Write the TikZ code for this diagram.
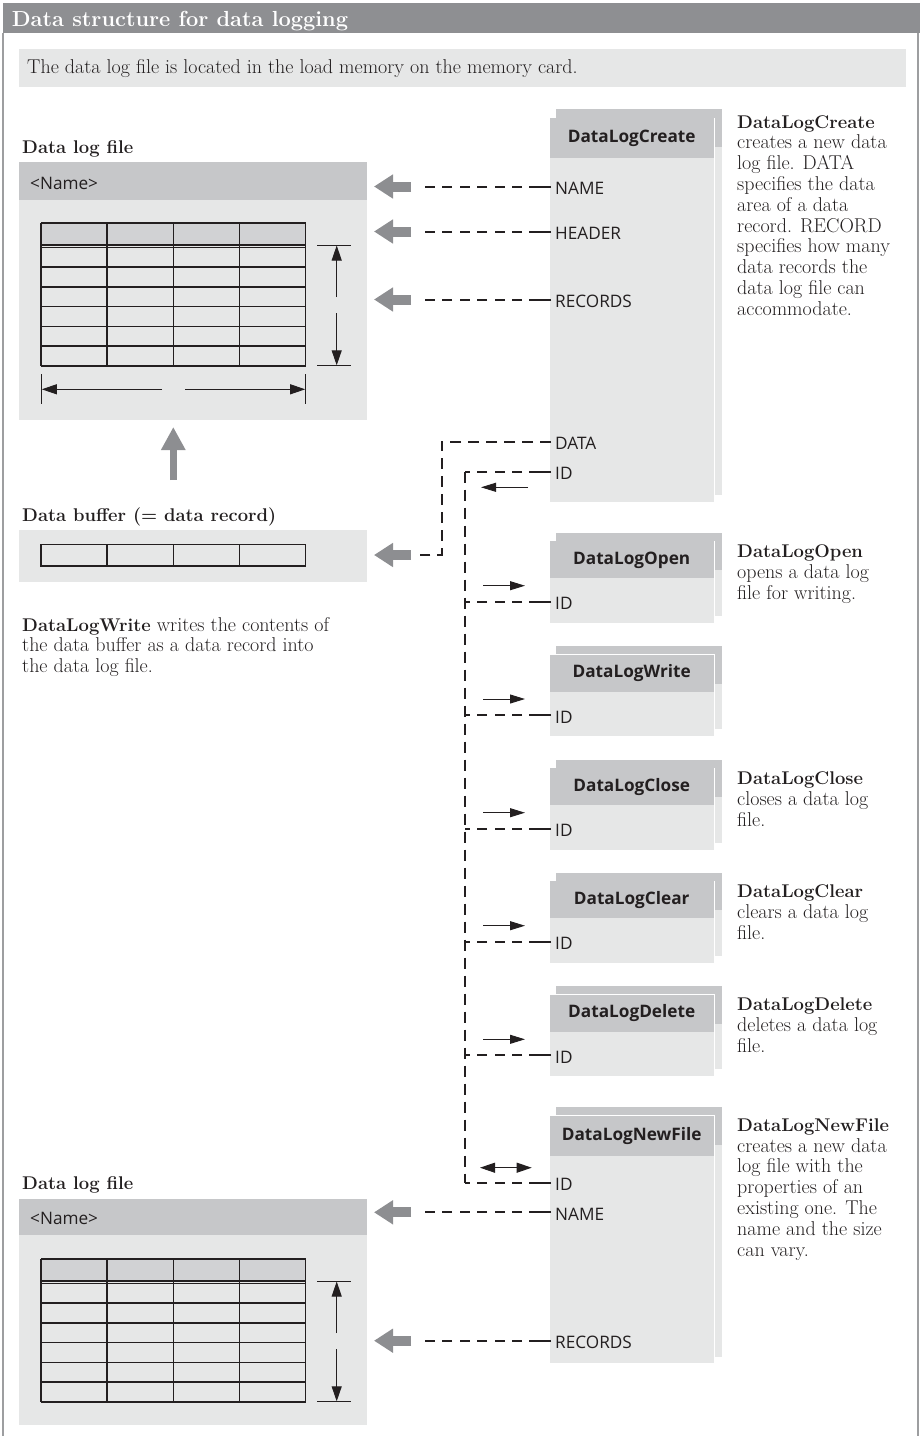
\documentclass[tikz,border=0pt]{standalone}
\usepackage{fontspec}
\newfontfamily\boxfont{Open Sans}
\usepackage{tikz}
\usetikzlibrary{arrows.meta}
\definecolor{barGray}{HTML}{8E8F92}
\definecolor{paneGray}{HTML}{E6E7E7}
\definecolor{headGray}{HTML}{C6C7C9}
\definecolor{cellGray}{HTML}{D1D2D4}
\definecolor{arrGray}{HTML}{8D8E91}
\definecolor{ink}{HTML}{231F20}
\definecolor{frameGray}{HTML}{9D9EA0}
% bold block name inside the running text
\newcommand\fname[1]{{\fontsize{18.4}{20.8}\selectfont\bfseries #1}}

\begin{document}
\begin{tikzpicture}[x=1pt, y=-1pt,
    txt/.style={inner sep=0pt, anchor=base west, text=ink,
      font=\fontsize{20}{20.8}\selectfont},
    para/.style={txt, anchor=north west, align=left},
    hd/.style={txt, font=\bfseries\fontsize{18.4}{20.8}\selectfont},
    port/.style={inner xsep=4pt, inner ysep=0pt, anchor=west, text=ink,
      text height=16pt, text depth=0pt, font=\boxfont\fontsize{17.2}{20}\selectfont},
    fhead/.style={anchor=north west, fill=headGray, minimum width=164pt,
      minimum height=37pt, inner sep=0pt, text=ink,
      font=\boxfont\bfseries\fontsize{17.2}{20}\selectfont},
    pane/.style={anchor=north west, fill=paneGray, inner sep=0pt},
    namebar/.style={anchor=north west, fill=headGray, inner sep=0pt,
      minimum width=348pt},
    tblLine/.style={line width=1.4pt, draw=ink},
    link/.style={line width=2pt, draw=ink, dash pattern=on 22pt off 7pt on 10pt off 7.5pt
      on 10pt off 7.5pt on 10pt off 7.5pt on 10pt off 7.5pt on 10pt off 7.5pt on 10pt off 7.5pt
      on 10pt off 7.5pt},
    spine/.style={line width=2pt, draw=ink, dash pattern=on 11pt off 7pt},
    blockArr/.style={draw=arrGray, line width=10pt, -{Triangle[length=19pt, width=23pt]}},
    thinArr/.style={line width=1pt, draw=ink, -{Triangle[length=15pt, width=9pt]}},
    dblArr/.style={line width=1pt, draw=ink,
      {Triangle[length=15pt, width=10pt]}-{Triangle[length=15pt, width=10pt]}},
    dimArr/.style={line width=1pt, draw=ink, -{Triangle[length=15pt, width=10pt]}}]
  \useasboundingbox (0,0) rectangle (920,1436);
  % frame and title
  \fill[barGray] (3,3) rectangle (920,33);
  \draw[frameGray, line width=1.2pt] (3,33) -- (3,1436) (918,33) -- (918,1436);
  \node[hd, text=white, font=\bfseries\fontsize{21.8}{24}\selectfont] (title) at (11.7,26.7)
    {Data structure for data logging};
  \node[pane, minimum width=887pt, minimum height=38pt] (intro) at (19,49) {};
  \node[txt] (introTxt) at (27,73.3)
    {The data log file is located in the load memory on the memory card.};

  % data log file (top)
  \node[hd] (logA) at (22,153.3) {Data log file};
  \node[pane, minimum width=348pt, minimum height=258pt] (fileA) at (19,162) {};
  \node[namebar, minimum height=38pt] (nameA) at (19,162) {};
  \node[port] at ([xshift=7pt]nameA.west) {<Name>};

  % data log file (bottom)
  \node[hd] (logB) at (22,1189.3) {Data log file};
  \node[pane, minimum width=348pt, minimum height=226.7pt] (fileB) at (19,1198.3) {};
  \node[namebar, minimum height=36.7pt] (nameB) at (19,1198.3) {};
  \node[port] at ([xshift=7pt]nameB.west) {<Name>};

  % tables of both files
  \foreach \ty in {223,1259}{
    \fill[cellGray] (41,\ty) rectangle (305.7,\ty+22);
    \foreach \r in {0,...,6}
      \draw[tblLine] (41,\ty+24.3+\r*19.75) -- (305.7,\ty+24.3+\r*19.75);
    \draw[tblLine] (41,\ty) -- (305.7,\ty) (41,\ty+22) -- (305.7,\ty+22);
    \foreach \cx in {41,107.1,173.3,239.5,305.7}
      \draw[tblLine] (\cx,\ty) -- (\cx,\ty+142.8);
    \draw[line width=1pt, draw=ink] (317,\ty+22) -- (351,\ty+22) (317,\ty+142.8) -- (351,\ty+142.8);
    \draw[dimArr] (336.7,\ty+74) -- (336.7,\ty+22.5);
    \draw[dimArr] (336.7,\ty+90) -- (336.7,\ty+142.3);
  }
  \draw[line width=1pt, draw=ink] (41.3,374) -- (41.3,404) (305.7,374) -- (305.7,404);
  \draw[dimArr] (162,389.3) -- (41.8,389.3);
  \draw[dimArr] (185,389.3) -- (305.2,389.3);

  % data buffer
  \draw[arrGray, line width=7pt, -{Triangle[length=23pt, width=23pt]}] (173.3,480) -- (173.3,427);
  \node[hd] (bufLbl) at (22,521.7) {Data buffer (= data record)};
  \node[pane, minimum width=348pt, minimum height=52.4pt] (buffer) at (19,529.3) {};
  \draw[tblLine] (41,544.3) rectangle (305.7,566);
  \foreach \cx in {107.1,173.3,239.5} \draw[tblLine] (\cx,544.3) -- (\cx,566);
  \node[para] (writeTxt) at (22,616.8)
    {\fname{DataLogWrite} writes the contents of\\the data buffer as a data record into\\the data log file.};

  \coordinate (tailX) at (419,0);
  \coordinate (arrTail) at (411,0);
  \coordinate (arrTip) at (374,0);

  % DataLogCreate
  \fill[headGray] (556,109) rectangle (721.5,146.7);
  \fill[paneGray] (556,146.7) rectangle (721.5,495);
  \node[pane, draw=white, line width=1pt, minimum width=165pt, minimum height=384pt] (createBox) at (549,117.7) {};
  \node[fhead, minimum height=39.5pt] (create) at (549.5,118.2) {DataLogCreate};
  \node[para] (createTxt) at (737,115) {\fname{DataLogCreate}\\creates a new data\\log file. DATA\\specifies the data\\area of a data\\record. RECORD\\specifies how many\\data records the\\data log file can\\accommodate.};
  \foreach \p/\yy in {NAME/186.5, HEADER/231.5, RECORDS/299.5}{
    \node[port] (c\p) at (551,\yy) {\p};
    \draw[link] (c\p.west) -- (c\p.west -| tailX);
    \draw[blockArr] (c\p.west -| arrTail) -- (c\p.west -| arrTip);
  }
  \node[port] (cDATA) at (551,441.7) {DATA};
  \node[port] (cID) at (551,471.7) {ID};
  \draw[spine] (cDATA.west) -- (441.7,441.7) -- (441.7,555) -- (420,555);
  \draw[blockArr] (411,555) -- (374,555);
  \draw[thinArr] (528,487.3) -- (481,487.3);

  \coordinate (spineTop) at (465,471.7);
  \coordinate (spineBot) at (465,1182.5);
  \draw[link] (cID.west) -- (spineTop);
  \draw[spine] (spineTop) -- (spineBot);

  % blocks with ID only
  \foreach \nm/\T in {Open/540.7, Write/654, Close/767.7, Clear/880.7, Delete/994.3}{
    \fill[headGray] (556,\T-8) rectangle (721.5,\T+29.5);
    \fill[paneGray] (556,\T+29.5) rectangle (721.5,\T+75);
    \node[pane, draw=white, line width=1pt, minimum width=165pt, minimum height=82pt] (box\nm) at (549,\T) {};
    \node[fhead] (\nm) at (549.5,\T+0.5) {DataLog\nm};
    \node[port] (id\nm) at (551,\T+61) {ID};
    \draw[link] (id\nm.west) -- (id\nm.west -| spineTop);
    \draw[thinArr] (483,\T+45) -- (525,\T+45);
  }
  \node[para] (openTxt) at (737,544.4) {\fname{DataLogOpen}\\opens a data log\\file for writing.};
  \node[para] (closeTxt) at (737,771.4) {\fname{DataLogClose}\\closes a data log\\file.};
  \node[para] (clearTxt) at (737,884.4) {\fname{DataLogClear}\\clears a data log\\file.};
  \node[para] (deleteTxt) at (737,998) {\fname{DataLogDelete}\\deletes a data log\\file.};

  % DataLogNewFile
  \fill[headGray] (556,1106.7) rectangle (721.5,1145);
  \fill[paneGray] (556,1145) rectangle (721.5,1356.7);
  \node[pane, draw=white, line width=1pt, minimum width=165pt, minimum height=248.3pt] (newBox) at (549,1115) {};
  \node[fhead, minimum height=40pt] (newFile) at (549.5,1115.5) {DataLogNewFile};
  \node[para] (newTxt) at (737,1118.4) {\fname{DataLogNewFile}\\creates a new data\\log file with the\\properties of an\\existing one. The\\name and the size\\can vary.};
  \node[port] (nID) at (551,1182.5) {ID};
  \draw[link] (nID.west) -- (spineBot);
  \draw[dblArr] (480,1167.7) -- (531.7,1167.7);
  \foreach \p/\yy in {NAME/1212.3, RECORDS/1340.7}{
    \node[port] (n\p) at (551,\yy) {\p};
    \draw[link] (n\p.west) -- (n\p.west -| tailX);
    \draw[blockArr] (n\p.west -| arrTail) -- (n\p.west -| arrTip);
  }
\end{tikzpicture}
\end{document}
